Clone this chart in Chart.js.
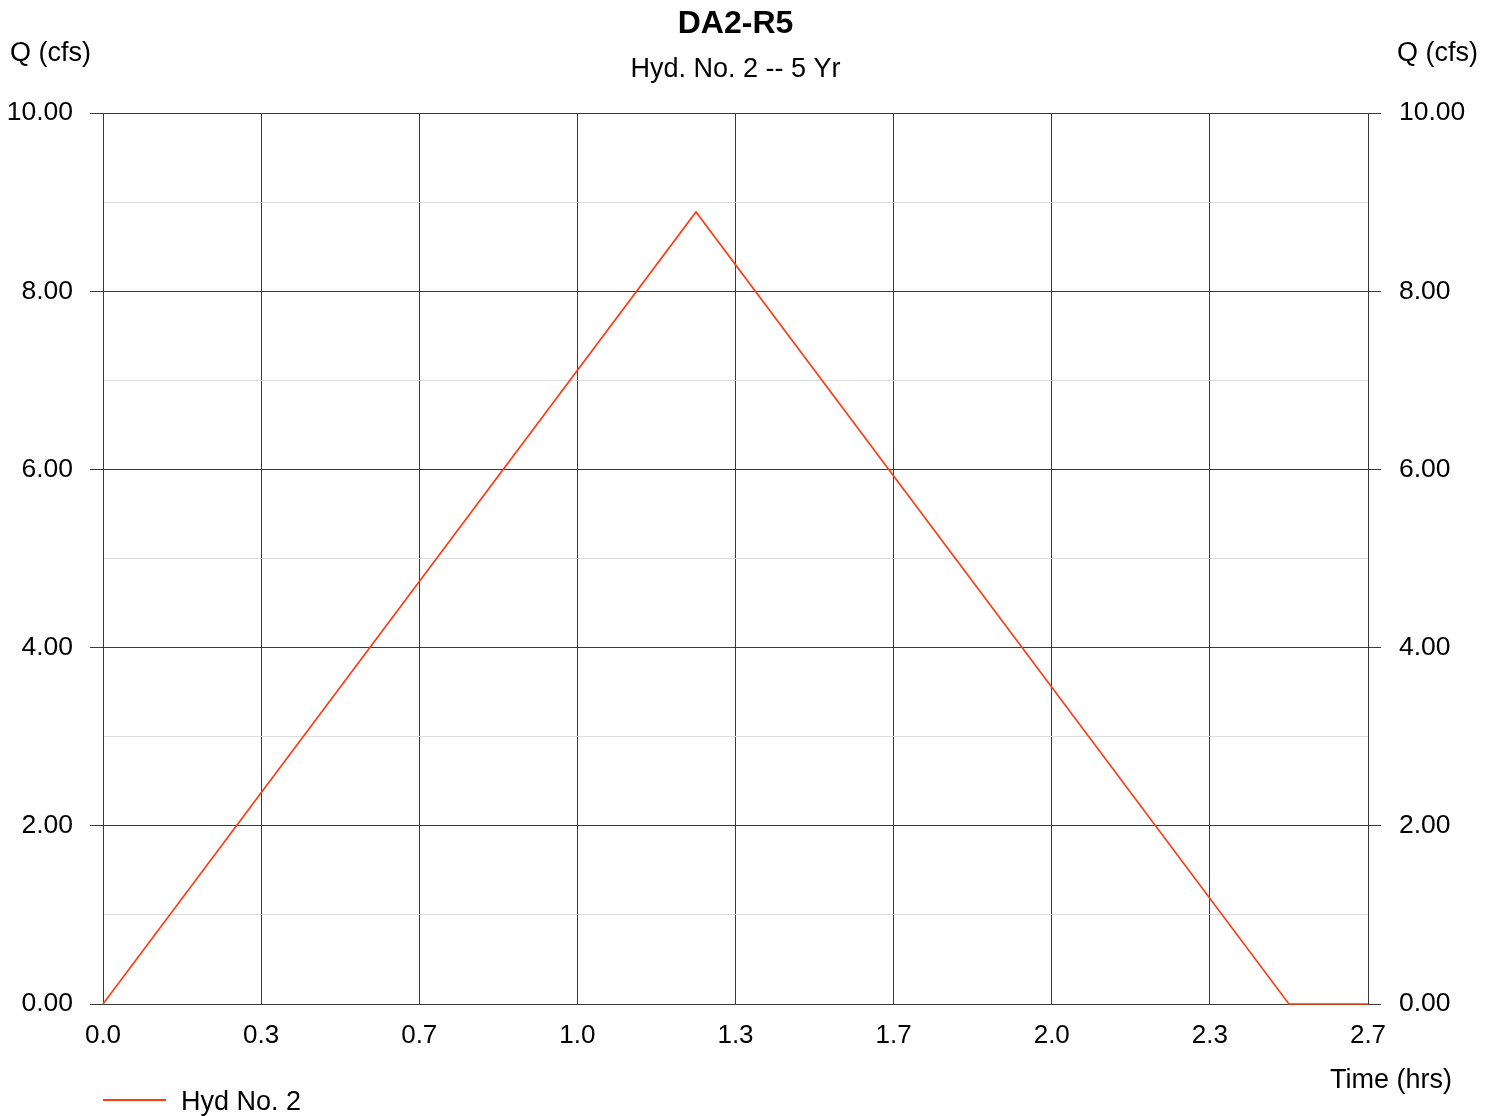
<!DOCTYPE html>
<html>
<head>
<meta charset="utf-8">
<script src="https://cdn.jsdelivr.net/npm/chart.js@4.4.1/dist/chart.umd.min.js"></script>
<style>
  html, body { margin: 0; padding: 0; background: #fff; }
  #wrap { width: 1496px; height: 1116px; }
</style>
</head>
<body>
<div id="wrap"><canvas id="chart" width="1496" height="1116"></canvas></div>
<script>
// hydrograph (time in hrs, Q in cfs)
var timeHrs = [0, 1.25, 2.50, 2.6667];
var flowCfs = [0, 8.89, 0, 0];
var xTicks = [0, 1 / 3, 2 / 3, 1, 4 / 3, 5 / 3, 2, 7 / 3, 8 / 3];
var yTicks = [0, 1, 2, 3, 4, 5, 6, 7, 8, 9, 10];

var title = "DA2-R5";
var subtitle = "Hyd. No. 2 -- 5 Yr";
var seriesName = "Hyd No. 2";

var FONT = "'Liberation Sans', Arial, sans-serif";
var lineColor = '#ff3a10';
var darkGrid = '#3a3a3a';
var lightGrid = '#dcdcdc';

var pts = timeHrs.map((t, i) => ({ x: t, y: flowCfs[i] }));

var isMajor = v => Math.round(v) % 2 === 0;

var textPlugin = {
    id: 'texts',
    afterDraw: chart => {
        const ctx = chart.ctx;
        const a = chart.chartArea;
        ctx.save();
        ctx.fillStyle = '#000';
        ctx.textBaseline = 'middle';
        ctx.textAlign = 'center';
        ctx.font = 'bold 32px ' + FONT;
        ctx.fillText(title, (a.left + a.right) / 2, 24);
        ctx.font = '27px ' + FONT;
        ctx.fillText(subtitle, (a.left + a.right) / 2, 70);
        ctx.textAlign = 'left';
        ctx.fillText("Q (cfs)", 10, 54);
        ctx.textAlign = 'right';
        ctx.fillText("Q (cfs)", 1478, 54);
        ctx.fillText("Time (hrs)", 1452, 1081);
        // legend
        ctx.strokeStyle = lineColor;
        ctx.lineWidth = 2;
        ctx.beginPath();
        ctx.moveTo(103, 1100);
        ctx.lineTo(166, 1100);
        ctx.stroke();
        ctx.textAlign = 'left';
        ctx.fillText(seriesName, 181, 1103);
        ctx.restore();
    }
};

var setTicks = vals => scale => { scale.ticks = vals.map(v => ({ value: v })); };

var ctx = document.getElementById('chart').getContext('2d');
var chart = new Chart(ctx, {
    type: 'line',
    data: {
        datasets: [{
            label: seriesName,
            data: pts,
            borderColor: lineColor,
            borderWidth: 1.6,
            pointRadius: 0,
            tension: 0,
            fill: false,
            clip: false
        }]
    },
    options: {
        responsive: false,
        animation: false,
        layout: { padding: { top: 113, left: 0, right: 0, bottom: 0 } },
        plugins: {
            legend: { display: false },
            title: { display: false },
            tooltip: { enabled: false }
        },
        scales: {
            x: {
                type: 'linear',
                min: 0,
                max: 8 / 3,
                afterBuildTicks: setTicks(xTicks),
                afterFit: s => { s.height = 112; },
                grid: { color: darkGrid, lineWidth: 1, drawTicks: false },
                border: { color: darkGrid },
                ticks: {
                    color: '#000',
                    font: { family: FONT, size: 26 },
                    padding: 16,
                    maxRotation: 0,
                    autoSkip: false,
                    callback: v => v.toFixed(1)
                }
            },
            y: {
                type: 'linear',
                position: 'left',
                min: 0,
                max: 10,
                afterBuildTicks: setTicks(yTicks),
                afterFit: s => { s.width = 103; },
                grid: {
                    color: c => isMajor(c.tick.value) ? darkGrid : lightGrid,
                    tickColor: c => isMajor(c.tick.value) ? darkGrid : 'rgba(0,0,0,0)',
                    tickLength: 13,
                    lineWidth: 1
                },
                border: { color: darkGrid },
                ticks: {
                    color: '#000',
                    font: { family: FONT, size: 26.5 },
                    padding: 17,
                    autoSkip: false,
                    callback: v => isMajor(v) ? v.toFixed(2) : ''
                }
            },
            y2: {
                type: 'linear',
                position: 'right',
                min: 0,
                max: 10,
                afterBuildTicks: setTicks(yTicks),
                afterFit: s => { s.width = 128; },
                grid: {
                    drawOnChartArea: false,
                    tickColor: c => isMajor(c.tick.value) ? darkGrid : 'rgba(0,0,0,0)',
                    tickLength: 13
                },
                border: { color: darkGrid },
                ticks: {
                    color: '#000',
                    font: { family: FONT, size: 26.5 },
                    padding: 18,
                    autoSkip: false,
                    callback: v => isMajor(v) ? v.toFixed(2) : ''
                }
            }
        }
    },
    plugins: [textPlugin]
});
</script>
</body>
</html>
